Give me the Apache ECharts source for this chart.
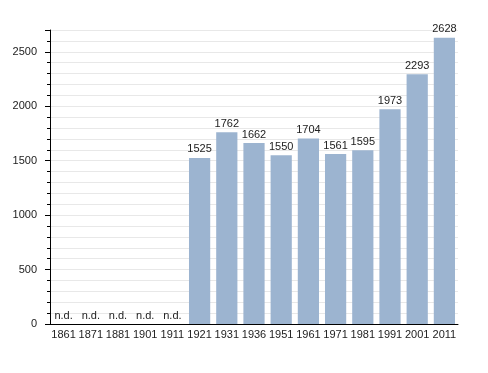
<!DOCTYPE html>
<html><head><meta charset="utf-8">
<script src="https://cdn.jsdelivr.net/npm/echarts@6/dist/echarts.min.js"></script>
<style>html,body{margin:0;padding:0;background:#fff}#c{width:488px;height:373px}</style>
</head><body><div id="c"></div>
<script>
const years = ['1861','1871','1881','1901','1911','1921','1931','1936','1951','1961','1971','1981','1991','2001','2011'];
const population = [null,null,null,null,null,1525,1762,1662,1550,1704,1561,1595,1973,2293,2628];
const yTicks = [0,500,1000,1500,2000,2500];

const font = '"Liberation Sans", Arial, sans-serif';
const chart = echarts.init(document.getElementById('c'));
chart.setOption({
  animation:false,
  grid:{left:50,right:30,top:30,bottom:49},
  xAxis:{type:'category',data:years,
    axisLine:{lineStyle:{color:'#000',width:1}},
    axisTick:{show:false},
    axisLabel:{color:'#222',fontSize:11,fontFamily:font,margin:5,interval:0}},
  yAxis:[{type:'value',min:0,max:2700,interval:500,
    axisLine:{show:true,lineStyle:{color:'#000'}},
    axisTick:{show:true,length:5,lineStyle:{color:'#000'}},
    axisLabel:{color:'#222',fontSize:11,fontFamily:font,margin:13,
      formatter:v=>yTicks.includes(v)?String(v):''},
    splitLine:{show:true,lineStyle:{color:['#aaa','#aaa','#aaa','#aaa','#aaa','#aaa','rgba(0,0,0,0)'],width:1}}},
   {type:'value',min:0,max:2700,interval:100,position:'left',
    axisLine:{show:false},
    axisTick:{show:true,length:3,lineStyle:{color:'#000'}},
    axisLabel:{show:false},
    splitLine:{show:true,lineStyle:{color:'#e8e8e8',width:1}}}],
  series:[{type:'bar',yAxisIndex:0,z:3,
    data:population.map(v=>v===null?{value:0,label:{formatter:'n.d.'}}:v),
    barCategoryGap:'22%',
    itemStyle:{color:'#9cb4d0'},
    label:{show:true,position:'top',distance:3,color:'#222',fontSize:11,fontFamily:font}}]
});
</script></body></html>
